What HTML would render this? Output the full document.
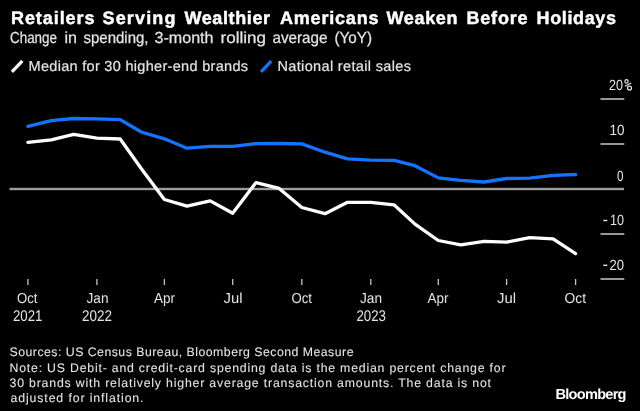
<!DOCTYPE html><html><head><meta charset="utf-8"><style>html,body{margin:0;padding:0;background:#000;width:640px;height:411px;overflow:hidden}svg{display:block;will-change:transform}text{font-family:"Liberation Sans",sans-serif;text-rendering:geometricPrecision}</style></head><body>
<svg width="640" height="411" viewBox="0 0 640 411">
<rect width="640" height="411" fill="#000"/>
<text x="11.00" y="24" font-size="18" font-weight="bold" fill="#fff" textLength="83.50" lengthAdjust="spacing" stroke="#fff" stroke-width="0.45" stroke-linejoin="round">Retailers</text>
<text x="102.50" y="24" font-size="18" font-weight="bold" fill="#fff" textLength="73.00" lengthAdjust="spacing" stroke="#fff" stroke-width="0.45" stroke-linejoin="round">Serving</text>
<text x="184.50" y="24" font-size="18" font-weight="bold" fill="#fff" textLength="85.50" lengthAdjust="spacing" stroke="#fff" stroke-width="0.45" stroke-linejoin="round">Wealthier</text>
<text x="280.00" y="24" font-size="18" font-weight="bold" fill="#fff" textLength="98.50" lengthAdjust="spacing" stroke="#fff" stroke-width="0.45" stroke-linejoin="round">Americans</text>
<text x="386.50" y="24" font-size="18" font-weight="bold" fill="#fff" textLength="71.00" lengthAdjust="spacing" stroke="#fff" stroke-width="0.45" stroke-linejoin="round">Weaken</text>
<text x="466.50" y="24" font-size="18" font-weight="bold" fill="#fff" textLength="61.00" lengthAdjust="spacing" stroke="#fff" stroke-width="0.45" stroke-linejoin="round">Before</text>
<text x="536.50" y="24" font-size="18" font-weight="bold" fill="#fff" textLength="79.50" lengthAdjust="spacing" stroke="#fff" stroke-width="0.45" stroke-linejoin="round">Holidays</text>
<text x="10.00" y="43.3" font-size="16" font-weight="normal" fill="#e4e4e4" textLength="47.00" lengthAdjust="spacingAndGlyphs" stroke="#e4e4e4" stroke-width="0.25" stroke-linejoin="round">Change</text>
<text x="64.50" y="43.3" font-size="16" font-weight="normal" fill="#e4e4e4" textLength="12.50" lengthAdjust="spacingAndGlyphs" stroke="#e4e4e4" stroke-width="0.25" stroke-linejoin="round">in</text>
<text x="83.50" y="43.3" font-size="16" font-weight="normal" fill="#e4e4e4" textLength="65.00" lengthAdjust="spacingAndGlyphs" stroke="#e4e4e4" stroke-width="0.25" stroke-linejoin="round">spending,</text>
<text x="154.50" y="43.3" font-size="16" font-weight="normal" fill="#e4e4e4" textLength="59.00" lengthAdjust="spacingAndGlyphs" stroke="#e4e4e4" stroke-width="0.25" stroke-linejoin="round">3-month</text>
<text x="220.50" y="43.3" font-size="16" font-weight="normal" fill="#e4e4e4" textLength="45.50" lengthAdjust="spacingAndGlyphs" stroke="#e4e4e4" stroke-width="0.25" stroke-linejoin="round">rolling</text>
<text x="272.50" y="43.3" font-size="16" font-weight="normal" fill="#e4e4e4" textLength="55.00" lengthAdjust="spacingAndGlyphs" stroke="#e4e4e4" stroke-width="0.25" stroke-linejoin="round">average</text>
<text x="334.50" y="43.3" font-size="16" font-weight="normal" fill="#e4e4e4" textLength="37.50" lengthAdjust="spacingAndGlyphs" stroke="#e4e4e4" stroke-width="0.25" stroke-linejoin="round">(YoY)</text>
<text x="28.50" y="71.3" font-size="14.5" font-weight="normal" fill="#e4e4e4" textLength="219.50" lengthAdjust="spacing" stroke="#e4e4e4" stroke-width="0.2" stroke-linejoin="round">Median for 30 higher-end brands</text>
<text x="277.50" y="71.3" font-size="14.5" font-weight="normal" fill="#e4e4e4" textLength="133.50" lengthAdjust="spacing" stroke="#e4e4e4" stroke-width="0.2" stroke-linejoin="round">National retail sales</text>
<text x="609.00" y="90.0" font-size="14.8" font-weight="normal" fill="#e4e4e4" textLength="14.00" lengthAdjust="spacingAndGlyphs">20</text>
<text x="609.50" y="135.4" font-size="14.8" font-weight="normal" fill="#e4e4e4" textLength="15.00" lengthAdjust="spacingAndGlyphs">10</text>
<text x="617.00" y="180.5" font-size="14.8" font-weight="normal" fill="#e4e4e4" textLength="6.50" lengthAdjust="spacingAndGlyphs">0</text>
<text x="610.00" y="225.2" font-size="14.8" font-weight="normal" fill="#e4e4e4" textLength="14.00" lengthAdjust="spacingAndGlyphs">10</text>
<text x="609.50" y="270.0" font-size="14.8" font-weight="normal" fill="#e4e4e4" textLength="14.50" lengthAdjust="spacingAndGlyphs">20</text>
<text x="17.00" y="302.8" font-size="14.5" font-weight="normal" fill="#e4e4e4" textLength="20.50" lengthAdjust="spacingAndGlyphs">Oct</text>
<text x="13.00" y="320.7" font-size="15.5" font-weight="normal" fill="#e4e4e4" textLength="29.50" lengthAdjust="spacingAndGlyphs">2021</text>
<text x="86.50" y="302.8" font-size="14.5" font-weight="normal" fill="#e4e4e4" textLength="22.00" lengthAdjust="spacingAndGlyphs">Jan</text>
<text x="82.00" y="320.7" font-size="15.5" font-weight="normal" fill="#e4e4e4" textLength="30.00" lengthAdjust="spacingAndGlyphs">2022</text>
<text x="154.00" y="302.8" font-size="14.5" font-weight="normal" fill="#e4e4e4" textLength="21.00" lengthAdjust="spacingAndGlyphs">Apr</text>
<text x="223.50" y="302.8" font-size="14.5" font-weight="normal" fill="#e4e4e4" textLength="19.00" lengthAdjust="spacingAndGlyphs">Jul</text>
<text x="291.50" y="302.8" font-size="14.5" font-weight="normal" fill="#e4e4e4" textLength="20.50" lengthAdjust="spacingAndGlyphs">Oct</text>
<text x="360.00" y="302.8" font-size="14.5" font-weight="normal" fill="#e4e4e4" textLength="22.00" lengthAdjust="spacingAndGlyphs">Jan</text>
<text x="356.50" y="320.7" font-size="15.5" font-weight="normal" fill="#e4e4e4" textLength="29.50" lengthAdjust="spacingAndGlyphs">2023</text>
<text x="427.50" y="302.8" font-size="14.5" font-weight="normal" fill="#e4e4e4" textLength="21.00" lengthAdjust="spacingAndGlyphs">Apr</text>
<text x="497.00" y="302.8" font-size="14.5" font-weight="normal" fill="#e4e4e4" textLength="19.00" lengthAdjust="spacingAndGlyphs">Jul</text>
<text x="564.50" y="302.8" font-size="14.5" font-weight="normal" fill="#e4e4e4" textLength="21.50" lengthAdjust="spacingAndGlyphs">Oct</text>
<text x="9.50" y="356.4" font-size="12.3" font-weight="normal" fill="#e4e4e4" textLength="344.00" lengthAdjust="spacing" stroke="#e4e4e4" stroke-width="0.08" stroke-linejoin="round">Sources: US Census Bureau, Bloomberg Second Measure</text>
<text x="9.50" y="371.6" font-size="12.3" font-weight="normal" fill="#e4e4e4" textLength="496.00" lengthAdjust="spacing" stroke="#e4e4e4" stroke-width="0.08" stroke-linejoin="round">Note: US Debit- and credit-card spending data is the median percent change for</text>
<text x="9.50" y="386.7" font-size="12.3" font-weight="normal" fill="#e4e4e4" textLength="481.50" lengthAdjust="spacing" stroke="#e4e4e4" stroke-width="0.08" stroke-linejoin="round">30 brands with relatively higher average transaction amounts. The data is not</text>
<text x="10.50" y="401.7" font-size="12.3" font-weight="normal" fill="#e4e4e4" textLength="133.00" lengthAdjust="spacing" stroke="#e4e4e4" stroke-width="0.08" stroke-linejoin="round">adjusted for inflation.</text>
<text x="555.50" y="398.9" font-size="14.6" font-weight="bold" fill="#fff" textLength="71.00" lengthAdjust="spacing">Bloomberg</text>
<g fill="none" stroke="#e4e4e4" stroke-width="1.25"><ellipse cx="626.5" cy="81.4" rx="1.6" ry="1.8"/><ellipse cx="629.5" cy="88.0" rx="2.0" ry="2.0"/><line x1="625.0" y1="86.3" x2="631.2" y2="83.0"/></g>
<line x1="11.9" y1="71.8" x2="22.4" y2="60.9" stroke="#f4f4f4" stroke-width="3.3"/>
<line x1="261.0" y1="71.8" x2="271.2" y2="61.2" stroke="#1274ff" stroke-width="3.3"/>
<rect x="603.3" y="219.8" width="4.0" height="1.4" fill="#e4e4e4"/>
<rect x="603.3" y="264.6" width="4.0" height="1.4" fill="#e4e4e4"/>
<rect x="600.5" y="98.1" width="23.8" height="1.8" fill="#a8a8a8"/>
<rect x="600.5" y="143.1" width="23.8" height="1.8" fill="#a8a8a8"/>
<rect x="600.5" y="233.1" width="23.8" height="1.8" fill="#a8a8a8"/>
<rect x="600.5" y="278.1" width="23.8" height="1.8" fill="#a8a8a8"/>
<rect x="9.5" y="187.8" width="614.5" height="2.4" fill="#9c9c9c"/>
<rect x="27.25" y="279" width="1.3" height="6" fill="#c4c4c4"/>
<rect x="96.25" y="279" width="1.3" height="6" fill="#c4c4c4"/>
<rect x="163.75" y="279" width="1.3" height="6" fill="#c4c4c4"/>
<rect x="232.05" y="279" width="1.3" height="6" fill="#c4c4c4"/>
<rect x="301.15" y="279" width="1.3" height="6" fill="#c4c4c4"/>
<rect x="370.15" y="279" width="1.3" height="6" fill="#c4c4c4"/>
<rect x="437.65" y="279" width="1.3" height="6" fill="#c4c4c4"/>
<rect x="505.95" y="279" width="1.3" height="6" fill="#c4c4c4"/>
<rect x="574.95" y="279" width="1.3" height="6" fill="#c4c4c4"/>
<polyline points="27.9,126.4 51.2,120.6 73.7,118.5 96.9,118.8 120.2,119.7 141.2,132.0 164.4,138.8 187.0,148.2 210.2,146.3 232.7,146.4 256.0,143.6 279.2,143.5 301.8,143.9 325.0,152.2 347.5,158.9 370.8,160.1 394.0,160.4 415.0,165.7 438.3,177.9 460.8,180.3 484.1,182.0 506.6,178.5 529.8,178.2 553.1,175.3 575.6,174.5" fill="none" stroke="#1274ff" stroke-width="3.3" stroke-linejoin="round" stroke-linecap="round"/>
<polyline points="27.9,142.4 51.2,139.9 73.7,134.3 96.9,138.1 120.2,139.0 141.2,168.5 164.4,199.5 187.0,206.1 210.2,200.9 232.7,213.3 256.0,182.6 279.2,188.4 301.8,207.5 325.0,213.7 347.5,202.3 370.8,202.3 394.0,204.8 415.0,224.1 438.3,240.5 460.8,244.9 484.1,241.3 506.6,242.2 529.8,237.6 553.1,238.8 575.6,253.7" fill="none" stroke="#fff" stroke-width="3.3" stroke-linejoin="round" stroke-linecap="round"/>
</svg></body></html>
